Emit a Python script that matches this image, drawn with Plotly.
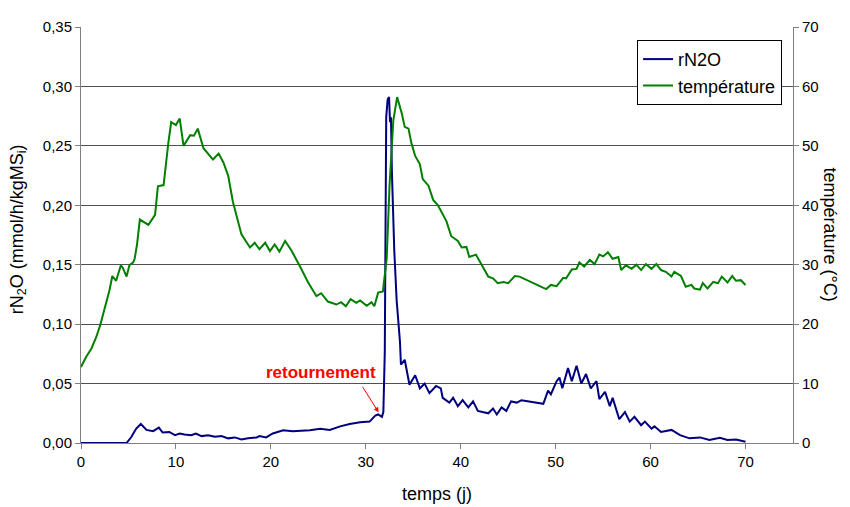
import plotly.graph_objects as go

# Temperature (°C) vs time (days)
temp_days = [0, 0.55, 1.1, 1.6, 2.0, 2.5, 3.0, 3.3, 3.7, 4.2, 4.4, 4.8, 5.1, 5.5, 5.65, 5.9, 6.2, 7.1, 7.8, 8.1,
             8.7, 9.2, 9.5, 10.0, 10.4, 10.8, 11.5, 11.9, 12.3, 12.9, 13.9, 14.5, 15.0, 15.5, 16.0, 16.9, 17.8,
             18.3, 18.8, 19.4, 19.9, 20.4, 20.9, 21.5, 22.2, 23.1, 23.9, 24.8, 25.3, 26.0, 26.9, 27.4, 27.9, 28.4,
             29.0, 29.4, 30.1, 30.6, 30.9, 31.3, 31.8, 32.2, 32.5, 32.9, 33.3, 33.8, 34.1, 34.5, 34.8, 35.2, 35.7,
             36.0, 36.6, 37.1, 37.6, 38.5, 39.0, 39.7, 40.1, 40.6, 40.9, 41.6, 42.2, 42.9, 43.4, 43.9, 44.5, 45.0,
             45.7, 46.2, 49.0, 49.5, 50.1, 50.8, 51.1, 51.7, 52.2, 52.5, 53.0, 53.6, 54.1, 54.6, 55.0, 55.5, 56.0,
             56.6, 56.9, 57.4, 58.0, 58.5, 59.0, 59.5, 60.1, 60.6, 61.1, 61.6, 62.2, 62.5, 63.2, 63.7, 64.3, 64.6,
             65.2, 65.5, 66.0, 66.6, 67.1, 67.5, 68.1, 68.6, 69.0, 69.5, 70.0]
temp_values = [12.8, 14.5, 15.9, 17.8, 19.7, 22.5, 25.7, 28.1, 27.3, 29.9, 29.5, 28.0, 29.9, 30.4, 31.0, 33.4, 37.6,
               36.7, 38.4, 43.2, 43.4, 50.5, 54.0, 53.5, 54.6, 50.0, 51.8, 51.7, 52.9, 49.6, 47.7, 48.7, 47.2, 45.0,
               40.6, 35.1, 32.9, 33.7, 32.6, 33.7, 32.3, 33.4, 32.2, 34.0, 32.3, 29.6, 27.1, 24.7, 25.2, 23.8, 23.3,
               23.7, 23.0, 24.2, 23.6, 24.0, 23.1, 23.7, 23.0, 25.3, 25.5, 31.0, 43.3, 54.3, 58.2, 55.4, 53.2, 52.9,
               50.5, 48.3, 46.9, 44.4, 43.3, 40.9, 40.0, 37.3, 34.8, 34.0, 32.9, 33.0, 31.3, 31.7, 29.9, 28.0, 27.7,
               26.9, 27.1, 26.9, 28.1, 28.0, 25.9, 26.6, 26.4, 27.8, 27.7, 29.2, 29.3, 30.4, 29.7, 30.8, 30.1, 31.7,
               31.4, 32.1, 31.0, 31.3, 29.1, 29.9, 29.3, 30.0, 29.1, 30.1, 29.3, 30.1, 29.1, 28.8, 28.0, 28.8, 28.1,
               26.3, 26.6, 26.0, 25.8, 26.9, 26.0, 27.1, 26.9, 28.0, 27.0, 28.1, 27.3, 27.4, 26.6]

# rN2O (mmol/h/kgMSi) vs time (days)
n2o_days = [0, 2.3, 4.8, 5.3, 5.8, 6.3, 6.9, 7.6, 8.2, 8.6, 9.3, 9.9, 10.4, 10.9, 11.6, 12.1, 12.7, 13.4, 14.1, 14.8,
            15.5, 16.2, 16.9, 17.6, 18.5, 18.8, 19.5, 20.2, 21.3, 22.3, 24.1, 25.2, 26.2, 27.3, 28.3, 29.4, 30.4,
            31.0, 31.3, 31.7, 31.85, 32.0, 32.15, 32.3, 32.45, 32.55, 32.65, 32.75, 33.0, 33.25, 33.45, 33.6, 33.7,
            34.1, 34.6, 35.2, 35.7, 36.2, 36.7, 37.4, 37.9, 38.1, 38.8, 39.2, 39.7, 40.2, 40.8, 41.3, 41.8, 42.5,
            42.9, 43.4, 43.8, 44.3, 44.8, 45.3, 45.9, 46.4, 48.7, 49.2, 49.5, 50.1, 50.4, 50.7, 51.3, 51.7, 52.2,
            52.7, 53.2, 53.7, 54.3, 54.6, 55.2, 55.7, 56.0, 56.7, 57.3, 57.8, 58.3, 59.0, 59.4, 60.1, 60.4, 61.1,
            62.2, 63.1, 64.1, 65.2, 66.2, 67.3, 68.1, 69.0, 70.0]
n2o_values = [0, 0, 0, 0.005, 0.012, 0.016, 0.011, 0.010, 0.013, 0.0088, 0.0093, 0.0066, 0.008, 0.0072, 0.0066,
              0.008, 0.0058, 0.0066, 0.0052, 0.0058, 0.0039, 0.0047, 0.003, 0.0039, 0.0047, 0.0058, 0.0047, 0.008,
              0.0107, 0.0099, 0.0107, 0.012, 0.011, 0.014, 0.016, 0.0175, 0.018, 0.023, 0.024, 0.022, 0.026, 0.077,
              0.274, 0.289, 0.291, 0.27, 0.274, 0.228, 0.162, 0.12, 0.101, 0.085, 0.066, 0.070, 0.049, 0.057, 0.046,
              0.050, 0.042, 0.048, 0.046, 0.038, 0.034, 0.038, 0.031, 0.036, 0.030, 0.035, 0.027, 0.026, 0.025,
              0.029, 0.024, 0.030, 0.027, 0.035, 0.034, 0.036, 0.033, 0.044, 0.041, 0.052, 0.055, 0.046, 0.063,
              0.052, 0.065, 0.050, 0.058, 0.046, 0.052, 0.037, 0.043, 0.031, 0.038, 0.020, 0.026, 0.018, 0.022,
              0.015, 0.018, 0.012, 0.014, 0.0093, 0.011, 0.0066, 0.0039, 0.0047, 0.0025, 0.0044, 0.0025, 0.003, 0.001]

left_ticks = [0, 0.05, 0.10, 0.15, 0.20, 0.25, 0.30, 0.35]
right_ticks = [0, 10, 20, 30, 40, 50, 60, 70]
x_ticks = [0, 10, 20, 30, 40, 50, 60, 70]

FONT = "Liberation Sans, Arial, sans-serif"

fig = go.Figure()
fig.add_trace(go.Scatter(x=n2o_days, y=n2o_values, mode="lines", name="rN2O",
                         line=dict(color="#00007F", width=2), yaxis="y"))
fig.add_trace(go.Scatter(x=temp_days, y=temp_values, mode="lines", name="température",
                         line=dict(color="#007F00", width=2), yaxis="y2"))

axis_col = "#808080"
fig.update_layout(
    width=842, height=499,
    margin=dict(l=73, r=57, t=10, b=64),
    paper_bgcolor="white", plot_bgcolor="white",
    separators=", ",
    font=dict(family=FONT, size=15, color="black"),
    showlegend=True,
    legend=dict(x=0.781, y=0.969, xanchor="left", yanchor="top",
                bgcolor="white", bordercolor="black", borderwidth=1,
                font=dict(size=18, family=FONT), itemwidth=30,
                tracegroupgap=0),
    xaxis=dict(range=[0, 75], tickvals=x_ticks, showgrid=False, zeroline=False,
               showline=True, linecolor=axis_col, linewidth=1,
               ticks="outside", ticklen=5, tickcolor=axis_col,
               tickfont=dict(size=15)),
    yaxis=dict(range=[0, 0.35], tickvals=left_ticks, tickformat=".2f",
               showgrid=True, gridcolor="#505050", gridwidth=1, zeroline=False,
               showline=True, linecolor=axis_col, linewidth=1,
               ticks="outside", ticklen=5, tickcolor=axis_col,
               tickfont=dict(size=15)),
    yaxis2=dict(range=[0, 70], tickvals=right_ticks, overlaying="y", side="right",
                showgrid=False, zeroline=False,
                showline=True, linecolor=axis_col, linewidth=1,
                ticks="outside", ticklen=5, tickcolor=axis_col,
                tickfont=dict(size=15)),
)

fig.add_annotation(xref="paper", yref="paper", x=-0.0878, y=0.515,
                   text="rN<sub>2</sub>O (mmol/h/kgMS<sub>i</sub>)", textangle=-90,
                   showarrow=False, font=dict(size=18), xanchor="center", yanchor="middle")
fig.add_annotation(xref="paper", yref="paper", x=1.052, y=0.501,
                   text="température (°C)", textangle=90,
                   showarrow=False, font=dict(size=18), xanchor="center", yanchor="middle")
fig.add_annotation(xref="paper", yref="paper", x=0.5, y=-0.122,
                   text="temps (j)", showarrow=False, font=dict(size=18),
                   xanchor="center", yanchor="middle")
# arrow
fig.add_annotation(x=31.35, y=0.0258, xref="x", yref="y", text="", showarrow=True,
                   ax=-17, ay=-27, arrowhead=2, arrowsize=1, arrowwidth=1, arrowcolor="#FF0000")
fig.add_annotation(x=25.3, y=0.0589, xref="x", yref="y", text="<b>retournement</b>",
                   showarrow=False, font=dict(size=17, color="#FF0000"),
                   xanchor="center", yanchor="middle")

fig.write_html("out.html")
